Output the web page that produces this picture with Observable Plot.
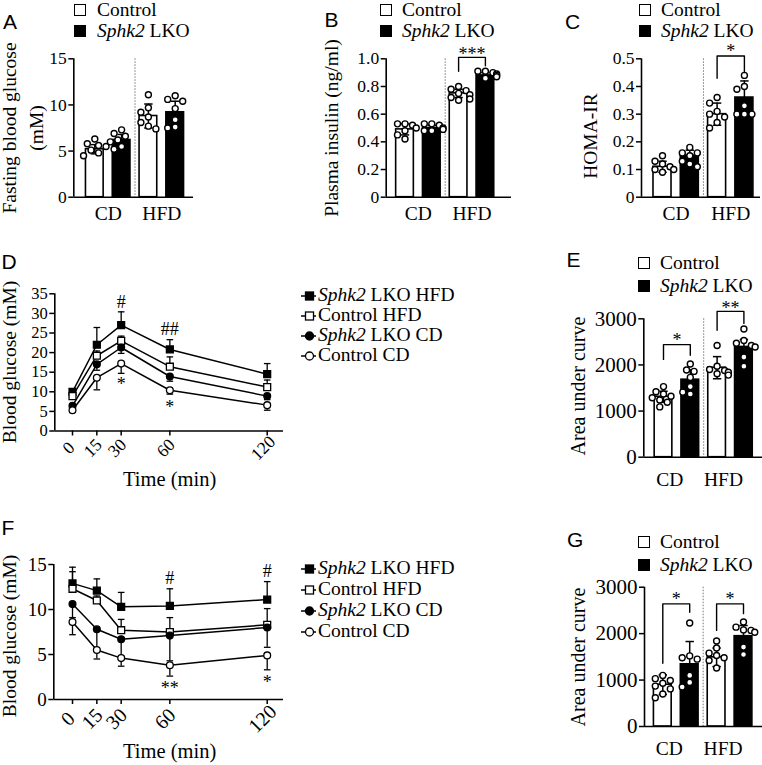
<!DOCTYPE html>
<html><head><meta charset="utf-8">
<script src="https://cdn.jsdelivr.net/npm/d3@7"></script>
<script src="https://cdn.jsdelivr.net/npm/@observablehq/plot@0.6"></script>
<style>
body{margin:0;background:#fff;}
#fig{position:relative;width:762px;height:765px;overflow:hidden;background:#fff;color:#000;font-family:'Liberation Serif','Times New Roman',serif;}
#fig > *{position:absolute;}
</style></head><body><div id="fig"></div>
<script>
// ---------- data ----------
const groups = ["CD", "HFD"];
const genotypes = ["Control", "Sphk2 LKO"];
const seriesNames = ["Sphk2 LKO HFD", "Control HFD", "Sphk2 LKO CD", "Control CD"];

// A: fasting blood glucose (mM); bars order: CD Control, CD KO, HFD Control, HFD KO
const aMean = [5.2, 6.2, 8.8, 9.2];
const aSd = [0.5, 0.6, 1.3, 1.2];
const aPts = [[6.3, 5.8, 5.6, 5.5, 5.1, 4.8, 4.5], [7.3, 6.9, 6.6, 6.2, 6.0, 5.5, 5.2], [11.1, 9.7, 9.2, 8.7, 8.1, 7.7, 7.4], [11.0, 10.6, 10.4, 9.6, 8.4, 7.6, 7.5]];
const aTicks = [0, 5, 10, 15];

// B: plasma insulin (ng/ml)
const bMean = [0.49, 0.50, 0.75, 0.88];
const bSd = [0.04, 0.02, 0.03, 0.02];
const bPts = [[0.53, 0.53, 0.52, 0.50, 0.48, 0.45, 0.42], [0.53, 0.53, 0.52, 0.50, 0.49, 0.48, 0.48], [0.80, 0.78, 0.77, 0.75, 0.74, 0.72, 0.71, 0.70], [0.91, 0.91, 0.90, 0.89, 0.88, 0.87, 0.86]];
const bTicks = [0, 0.2, 0.4, 0.6, 0.8, 1.0];
const bSig = [{a: 3, b: 4, top: 1.01, la: 0.91, lb: 0.95, text: "***", ty: 1.06}];

// C: HOMA-IR
const cMean = [0.11, 0.15, 0.30, 0.36];
const cSd = [0.02, 0.02, 0.04, 0.06];
const cPts = [[0.15, 0.13, 0.12, 0.11, 0.10, 0.10, 0.09], [0.18, 0.16, 0.16, 0.15, 0.13, 0.12, 0.11], [0.36, 0.34, 0.31, 0.30, 0.29, 0.27, 0.25], [0.44, 0.40, 0.39, 0.33, 0.30, 0.30, 0.30]];
const cTicks = [0, 0.1, 0.2, 0.3, 0.4, 0.5];
const cSig = [{a: 3, b: 4, top: 0.51, la: 0.43, lb: 0.45, text: "*", ty: 0.54}];

// D: GTT blood glucose (mM)
const times = [0, 15, 30, 60, 120];
const gttKoHfd = [10.0, 22.0, 27.0, 20.8, 14.5];
const gttKoHfdSd = [0.6, 4.4, 3.4, 2.5, 2.7];
const gttCtrlHfd = [8.9, 19.2, 23.0, 16.4, 11.2];
const gttCtrlHfdSd = [0.6, 1.2, 1.2, 2.5, 1.8];
const gttKoCd = [6.4, 17.0, 21.3, 13.9, 8.9];
const gttKoCdSd = [0.5, 1.5, 1.5, 1.2, 0.9];
const gttCtrlCd = [5.3, 13.6, 17.2, 10.4, 6.6];
const gttCtrlCdSd = [0.4, 3.1, 2.5, 1.0, 1.3];
const gttTicks = [0, 5, 10, 15, 20, 25, 30, 35];
const gttNotes = [{t: 30, y: 32.8, s: "#"}, {t: 60, y: 26.0, s: "##"}, {t: 30, y: 12.9, s: "*"}, {t: 60, y: 7.0, s: "*"}];

// E: GTT area under curve
const eMean = [1310, 1680, 1940, 2390];
const eSd = [120, 210, 240, 160];
const ePts = [[1530, 1420, 1370, 1320, 1290, 1240, 1190, 1090], [2020, 1890, 1860, 1730, 1530, 1410, 1370], [2420, 1970, 1900, 1880, 1840, 1810, 1780], [2780, 2530, 2470, 2420, 2390, 2170, 1970]];
const aucTicks = [0, 1000, 2000, 3000];
const eSig = [{a: 1, b: 2, top: 2440, la: 2120, lb: 2210, text: "*", ty: 2620}, {a: 3, b: 4, top: 3160, la: 2750, lb: 2900, text: "**", ty: 3310}];

// F: ITT blood glucose (mM)
const ittKoHfd = [12.9, 12.1, 10.3, 10.4, 11.1];
const ittKoHfdSd = [1.8, 1.3, 1.6, 1.9, 2.0];
const ittCtrlHfd = [12.3, 11.0, 7.7, 7.5, 8.3];
const ittCtrlHfdSd = [1.9, 0.5, 1.2, 1.6, 1.8];
const ittKoCd = [10.6, 7.8, 6.7, 7.1, 8.0];
const ittKoCdSd = [1.5, 2.4, 1.9, 2.8, 2.2];
const ittCtrlCd = [8.6, 5.5, 4.6, 3.8, 4.9];
const ittCtrlCdSd = [1.4, 1.0, 0.9, 1.2, 1.6];
const ittTicks = [0, 5, 10, 15];
const ittNotes = [{t: 60, y: 13.5, s: "#"}, {t: 120, y: 14.2, s: "#"}, {t: 60, y: 1.7, s: "**"}, {t: 120, y: 2.4, s: "*"}];

// G: ITT area under curve
const gMean = [900, 1340, 1490, 1945];
const gSd = [210, 490, 200, 230];
const gPts = [[1100, 1030, 990, 930, 870, 810, 700, 620], [2230, 1520, 1480, 1450, 1100, 950, 850], [1840, 1690, 1580, 1530, 1480, 1420, 1260], [2250, 2140, 2080, 2070, 2030, 1710, 1550]];
const gSig = [{a: 1, b: 2, top: 2640, la: 1360, lb: 2460, text: "*", ty: 2820}, {a: 3, b: 4, top: 2640, la: 2070, lb: 2430, text: "*", ty: 2820}];

// ---------- helpers ----------
const SERIF = "'Liberation Serif','Times New Roman',serif";
const SANS = "'Liberation Sans',Arial,sans-serif";
const fig = document.getElementById("fig");

function plotAt(box, frame, opts) {
  const svg = Plot.plot({
    width: box.w, height: box.h,
    marginLeft: frame.l - box.x, marginRight: box.x + box.w - frame.r,
    marginTop: frame.t - box.y, marginBottom: box.y + box.h - frame.b,
    style: {fontFamily: SERIF, fontSize: "17px", color: "black", background: "transparent", overflow: "visible"},
    ...opts
  });
  svg.style.position = "absolute";
  svg.style.left = box.x + "px";
  svg.style.top = box.y + "px";
  fig.appendChild(svg);
}

function htmlName(s) { return s.replace("Sphk2", "<i>Sphk2</i>"); }

function text(html, x, baseline, size, sans) {
  const d = document.createElement("div");
  d.innerHTML = html;
  d.style.cssText = `left:${x}px;top:${baseline - (sans ? 0.8465 : 0.8375) * size}px;font-size:${size}px;line-height:1;white-space:nowrap;font-family:${sans ? SANS : SERIF};`;
  fig.appendChild(d);
}
function vtext(html, cx, cy, size) {
  const d = document.createElement("div");
  d.innerHTML = html;
  d.style.cssText = `left:${cx}px;top:${cy}px;font-size:${size}px;line-height:1;white-space:nowrap;transform:translate(-50%,-50%) rotate(-90deg);`;
  fig.appendChild(d);
}
function barLegend(sqX, textX, b1, b2) {
  [b1, b2].forEach((b, i) => {
    const s = document.createElement("div");
    s.style.cssText = `left:${sqX}px;top:${b - 12.5}px;width:10px;height:10px;border:1.5px solid #000;background:${i ? "#000" : "#fff"};`;
    fig.appendChild(s);
    text(htmlName(genotypes[i]), textX, b, 19.5);
  });
}

// simple deterministic beeswarm offset (px)
function dodge(values, ppu, r) {
  const placed = [];
  const sorted = values.slice().sort((a, b) => b - a);
  const cands = [0, -1, 1, -2, 2, -3, 3].map(k => k * r * 1.25);
  for (const v of sorted) {
    let pick = cands[cands.length - 1];
    for (const c of cands) {
      if (placed.every(q => Math.hypot(q.dx - c, (q.v - v) * ppu) >= 2 * r + 0.8)) { pick = c; break; }
    }
    placed.push({v, dx: pick});
  }
  return placed;
}

function barPanel(p) {
  const xmin = 1 - (p.c1 - p.frame.l) / p.step;
  const xmax = 4 + (p.frame.r - (p.c1 + 3 * p.step)) / p.step;
  const ppu = (p.frame.b - p.frame.t) / p.ymax;
  const bars = p.mean.map((m, i) => ({pos: i + 1, mean: m, sd: p.sd[i], ko: i % 2 === 1}));
  const hw = 0.33, cap = 4.2 / p.step, R = 3.0;
  const dots = [];
  p.pts.forEach((vals, i) => dodge(vals, ppu, R).forEach(d => dots.push({x: i + 1 + d.dx / p.step, y: d.v})));
  const sig = p.sig || [];
  const br = [];
  sig.forEach((s, k) => br.push({id: k, x: s.a, y: s.la}, {id: k, x: s.a, y: s.top}, {id: k, x: s.b, y: s.top}, {id: k, x: s.b, y: s.lb}));
  const st = sig.map(s => ({x: (s.a + s.b) / 2, y: s.ty, t: s.text}));
  plotAt(p.box, p.frame, {
    x: {domain: [xmin, xmax]},
    y: {domain: [0, p.ymax]},
    marks: [
      Plot.ruleX([2.5], {stroke: "#777", strokeWidth: 1, strokeDasharray: "1.5,1.5"}),
      Plot.rect(bars.filter(d => !d.ko), {x1: d => d.pos - hw, x2: d => d.pos + hw, y1: 0, y2: "mean", fill: "white", stroke: "black", strokeWidth: 1.6}),
      Plot.rect(bars.filter(d => d.ko), {x1: d => d.pos - hw, x2: d => d.pos + hw, y1: 0, y2: "mean", fill: "black", stroke: "black", strokeWidth: 1.6}),
      Plot.ruleX(bars, {x: "pos", y1: d => d.mean - d.sd, y2: d => d.mean + d.sd, stroke: "black", strokeWidth: 1.5}),
      Plot.link(bars, {x1: d => d.pos - cap, x2: d => d.pos + cap, y1: d => d.mean + d.sd, y2: d => d.mean + d.sd, stroke: "black", strokeWidth: 1.5}),
      Plot.link(bars, {x1: d => d.pos - cap, x2: d => d.pos + cap, y1: d => d.mean - d.sd, y2: d => d.mean - d.sd, stroke: "black", strokeWidth: 1.5}),
      Plot.dot(dots, {x: "x", y: "y", r: R, fill: "white", stroke: "black", strokeWidth: 1.4}),
      Plot.line(br, {x: "x", y: "y", z: "id", stroke: "black", strokeWidth: 1.4}),
      Plot.text(st, {x: "x", y: "y", text: "t", fontSize: 18, dy: 4}),
      Plot.ruleX([xmin], {stroke: "black", strokeWidth: 1.6}),
      Plot.ruleY([0], {stroke: "black", strokeWidth: 1.6}),
      Plot.axisY({ticks: p.ticks, tickFormat: p.fmt || (d => String(d)), tickSize: 5, tickPadding: 2, fontSize: p.tickFont, label: null, strokeWidth: 1.5}),
      Plot.axisX({ticks: [1.5, 3.5], tickFormat: d => groups[Math.round((d - 1.5) / 2)], tickSize: 0, tickPadding: p.labelPad, fontSize: 19.5, label: null, dx: p.labelDx || 0})
    ]
  });
}

function linePanel(p) {
  const k = (p.x120 - p.x0) / 120;
  const xmin = -(p.x0 - p.frame.l) / k;
  const xmax = 120 + (p.frame.r - p.x120) / k;
  const rows = p.series.flatMap((s, si) => times.map((t, i) => ({t, v: s.vals[i], e: s.vals[i] + s.dir * s.sd[i], si})));
  const capT = 3.3 / k;
  const dotMarks = p.series.map((s, si) => Plot.dot(rows.filter(d => d.si === si), {x: "t", y: "v", symbol: s.symbol, r: s.symbol === "square" ? 3.9 : 3.4, fill: s.fill, stroke: "black", strokeWidth: 1.3}));
  plotAt(p.box, p.frame, {
    x: {domain: [xmin, xmax]},
    y: {domain: [0, p.ymax]},
    marks: [
      Plot.ruleX(rows, {x: "t", y1: "v", y2: "e", stroke: "black", strokeWidth: 1.3}),
      Plot.link(rows, {x1: d => d.t - capT, x2: d => d.t + capT, y1: "e", y2: "e", stroke: "black", strokeWidth: 1.3}),
      Plot.line(rows, {x: "t", y: "v", z: "si", stroke: "black", strokeWidth: 1.5}),
      ...dotMarks,
      Plot.text(p.notes.filter(d => d.s.includes("#")), {x: "t", y: "y", text: "s", fontSize: 18, fill: "black"}),
      Plot.text(p.notes.filter(d => d.s.includes("*")), {x: "t", y: "y", text: "s", fontSize: 18, dy: 4, fill: "black"}),
      Plot.ruleX([xmin], {stroke: "black", strokeWidth: 1.6}),
      Plot.ruleY([0], {stroke: "black", strokeWidth: 1.6}),
      Plot.axisY({ticks: p.ticks, tickSize: 5, tickPadding: 2, fontSize: p.tickFont, label: null, strokeWidth: 1.5}),
      Plot.axisX({ticks: times, tickSize: 5, tickFormat: () => "", label: null, strokeWidth: 1.5}),
      Plot.text(times, {x: d => d, frameAnchor: "bottom", dy: p.tickDy, rotate: -45, text: d => String(d), fontSize: p.tickFont + 1, textAnchor: "middle"})
    ]
  });
}

function lineLegend(b0, gap) {
  const syms = [["square", "#000"], ["square", "#fff"], ["circle", "#000"], ["circle", "#fff"]];
  syms.forEach(([sym, fill], i) => {
    const b = b0 + i * gap;
    const svg = d3.create("svg").attr("width", 16).attr("height", 12)
      .style("left", "301px").style("top", (b - 11) + "px").style("position", "absolute");
    svg.append("line").attr("x1", 0).attr("x2", 15).attr("y1", 6).attr("y2", 6).attr("stroke", "#000").attr("stroke-width", 1.5);
    if (sym === "square") svg.append("rect").attr("x", 4.5).attr("y", 2).attr("width", 8).attr("height", 8).attr("fill", fill).attr("stroke", "#000").attr("stroke-width", 1.3);
    else svg.append("circle").attr("cx", 8.5).attr("cy", 6).attr("r", 4).attr("fill", fill).attr("stroke", "#000").attr("stroke-width", 1.3);
    fig.appendChild(svg.node());
    text(htmlName(seriesNames[i]), 318, b, 19.5);
  });
}

// ---------- panels ----------
const fmt1 = d => d === 0 ? "0" : d.toFixed(1);

barPanel({box: {x: 45, y: 40, w: 160, h: 195}, frame: {l: 73.3, r: 193, t: 58.3, b: 196.7}, c1: 94.3, step: 26.8, ymax: 15, ticks: aTicks, tickFont: 17.5, mean: aMean, sd: aSd, pts: aPts, labelPad: 9});
barPanel({box: {x: 350, y: 30, w: 165, h: 205}, frame: {l: 385.7, r: 511, t: 58.3, b: 196.7}, c1: 404.5, step: 26.8, ymax: 1, ticks: bTicks, fmt: fmt1, tickFont: 17.5, mean: bMean, sd: bSd, pts: bPts, sig: bSig, labelPad: 9});
barPanel({box: {x: 605, y: 30, w: 157, h: 205}, frame: {l: 641, r: 760, t: 58.3, b: 196.7}, c1: 662, step: 27.3, ymax: 0.5, ticks: cTicks, fmt: fmt1, tickFont: 17.5, mean: cMean, sd: cSd, pts: cPts, sig: cSig, labelPad: 9});
barPanel({box: {x: 590, y: 290, w: 172, h: 210}, frame: {l: 643.3, r: 762, t: 318.3, b: 456.7}, c1: 663, step: 26.8, ymax: 3000, ticks: aucTicks, tickFont: 21, mean: eMean, sd: eSd, pts: ePts, sig: eSig, labelPad: 15, labelDx: -7});
barPanel({box: {x: 590, y: 560, w: 172, h: 205}, frame: {l: 644, r: 762, t: 586.7, b: 726}, c1: 662.3, step: 26.9, ymax: 3000, ticks: aucTicks, tickFont: 21, mean: gMean, sd: gSd, pts: gPts, sig: gSig, labelPad: 15, labelDx: -7});

linePanel({box: {x: 20, y: 280, w: 275, h: 190}, frame: {l: 54.3, r: 283, t: 293.3, b: 430.5}, x0: 72, x120: 266.7, ymax: 35, ticks: gttTicks, tickFont: 16.5, tickDy: 21, notes: gttNotes,
  series: [
    {vals: gttKoHfd, sd: gttKoHfdSd, dir: 1, symbol: "square", fill: "black"},
    {vals: gttCtrlHfd, sd: gttCtrlHfdSd, dir: 1, symbol: "square", fill: "white"},
    {vals: gttKoCd, sd: gttKoCdSd, dir: -1, symbol: "circle", fill: "black"},
    {vals: gttCtrlCd, sd: gttCtrlCdSd, dir: -1, symbol: "circle", fill: "white"}
  ]});
linePanel({box: {x: 20, y: 550, w: 275, h: 190}, frame: {l: 53.3, r: 283, t: 564, b: 699}, x0: 72, x120: 266.7, ymax: 15, ticks: ittTicks, tickFont: 19, tickDy: 24, notes: ittNotes,
  series: [
    {vals: ittKoHfd, sd: ittKoHfdSd, dir: 1, symbol: "square", fill: "black"},
    {vals: ittCtrlHfd, sd: ittCtrlHfdSd, dir: 1, symbol: "square", fill: "white"},
    {vals: ittKoCd, sd: ittKoCdSd, dir: -1, symbol: "circle", fill: "black"},
    {vals: ittCtrlCd, sd: ittCtrlCdSd, dir: -1, symbol: "circle", fill: "white"}
  ]});

// ---------- text ----------
text("A", 3, 28.3, 21, true);
text("B", 324.5, 26.7, 21, true);
text("C", 565, 28.3, 21, true);
text("D", 1.5, 268.3, 21, true);
text("E", 566.5, 266.7, 21, true);
text("F", 1.5, 535, 21, true);
text("G", 567, 546.7, 21, true);

barLegend(74, 97, 16.7, 37.7);
barLegend(380, 402, 16.7, 37.7);
barLegend(639, 661, 16.7, 37.7);
barLegend(638, 660, 269.5, 292.5);
barLegend(638, 660, 548, 571);

vtext("Fasting blood glucose", 9.5, 127.5, 19.5);
vtext("(mM)", 37, 127.5, 19.5);
vtext("Plasma insulin (ng/ml)", 332, 127.5, 19.5);
vtext("HOMA-IR", 591, 135.5, 19.5);
vtext("Blood glucose (mM)", 9.5, 362, 19.5);
vtext("Area under curve", 577.5, 386, 20);
vtext("Blood glucose (mM)", 9.5, 636, 19.5);
vtext("Area under curve", 577.5, 657, 20);
text("Time (min)", 123, 486, 20.5);
text("Time (min)", 123, 758, 20.5);

lineLegend(301, 20);
lineLegend(574, 21);
</script></body></html>
